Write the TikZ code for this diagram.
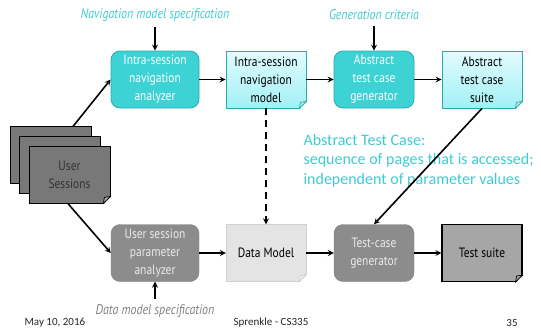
\documentclass[tikz,border=0pt]{standalone}
\usepackage{fontspec}
\setmainfont{PT Sans}
\newfontfamily\boxfont[FakeStretch=0.85]{PT Sans}
\newfontfamily\notefont{Carlito}
\usetikzlibrary{positioning, backgrounds}

\definecolor{tealfill}{HTML}{3DD3D5}
\definecolor{tealline}{HTML}{2AABB0}
\definecolor{teallabel}{HTML}{3FCBD3}
\definecolor{doctop}{HTML}{E2FCFD}
\definecolor{docbottom}{HTML}{A2F0F6}
\definecolor{greyfill}{HTML}{8C8C8C}
\definecolor{sessionfill}{HTML}{787878}
\definecolor{suitefill}{HTML}{A6A6A6}
\definecolor{datafill}{HTML}{E4E4E4}
\definecolor{dataline}{HTML}{D0D0D0}

\begin{document}
\begin{tikzpicture}[x=1pt, y=-1pt]
\useasboundingbox (0,0) rectangle (541,330);

\tikzset{box/.style={shape=rectangle, minimum height=57, minimum width=80, align=center, font=\boxfont\fontsize{13.5}{18}\selectfont}}
\tikzset{analyzer/.style={box, rounded corners=9, fill=tealfill, draw=tealline, line width=0.8, text=white}}
\tikzset{greybox/.style={box, rounded corners=9, fill=greyfill, draw=greyfill!90!black, text=white!92!black}}
\tikzset{cyandoc/.style={box, top color=doctop, bottom color=docbottom, draw=tealline, line width=0.8}}
\tikzset{greydoc/.style={box, fill=datafill, draw=dataline}}
\tikzset{suitedoc/.style={box, fill=suitefill, draw=black, line width=1.1}}
\tikzset{sessiondoc/.style={box, minimum width=81, fill=sessionfill, draw=black, line width=0.8, text=black!80}}
\tikzset{speclabel/.style={font=\boxfont\itshape\fontsize{14}{16}\selectfont, text=teallabel}}
\tikzset{note/.style={font=\notefont\fontsize{16}{19.3}\selectfont, text=teallabel, align=left}}
\tikzset{footer/.style={font=\notefont\fontsize{11}{12}\selectfont, text=black!85}}
\tikzset{flow/.style={->, >=stealth, line width=1.6}}

% top row
\node[speclabel] (navspec) at (155,15) {Navigation model specification};
\node[speclabel] (gencrit) at (374,15) {Generation criteria};
\node[analyzer, minimum width=88] (navanalyzer) at (155,79.5) {Intra-session\\navigation\\analyzer};
\node[cyandoc] (navmodel) at (266,79.5) {Intra-session\\navigation\\model};
\node[analyzer] (abstractgen) at (374,79.5) {Abstract\\test case\\generator};
\node[cyandoc] (abstractsuite) at (482,79.5) {Abstract\\test case\\suite};

% user sessions
\node[sessiondoc] (us1) at (50.5,154.5) {};
\node[sessiondoc] (us2) at (60,164.5) {};
\node[sessiondoc] (us3) at (69.5,174.5) {User\\Sessions};

% bottom row
\node[greybox, minimum width=88] (paramanalyzer) at (155,253) {User session\\parameter\\analyzer};
\node[greydoc] (datamodel) at (266,253) {Data Model};
\node[greybox] (tcgen) at (374,253) {Test-case\\generator};
\node[suitedoc] (testsuite) at (482,253) {Test suite};
\node[speclabel, text=gray] (dataspec) at (155,311) {Data model specification};

% note
\node[note, anchor=north west] (abstractnote) at (300,131) {Abstract Test Case:\\sequence of pages that is accessed;\\independent of parameter values};

% folded corners
\foreach \d/\c in {navmodel/tealline, abstractsuite/tealline, us3/black, datamodel/dataline, testsuite/black}{
  \fill[white] ([xshift=-7pt, yshift=-1pt]\d.south east) -- ([xshift=1pt, yshift=-1pt]\d.south east) -- ([xshift=1pt, yshift=7pt]\d.south east) -- cycle;
  \filldraw[draw=\c, fill=\c!35!white, line width=0.7] ([xshift=-7pt]\d.south east) -- ([yshift=7pt]\d.south east) -- ([xshift=-6pt, yshift=6pt]\d.south east) -- cycle;
}

% connectors
\draw[flow, shorten <=2] (navspec) -- (navanalyzer);
\draw[flow, shorten <=2] (gencrit) -- (abstractgen);
\draw[flow] (navanalyzer) -- (navmodel);
\draw[flow] (navmodel) -- (abstractgen);
\draw[flow] (abstractgen) -- (abstractsuite);
\draw[flow, dash pattern=on 7pt off 5pt] (navmodel) -- (datamodel);
\draw[flow] (abstractsuite.south) -- (tcgen.north);
\draw[flow] (paramanalyzer) -- (datamodel);
\draw[flow] (datamodel) -- (tcgen);
\draw[flow] (tcgen) -- (testsuite);
\draw[flow, shorten <=2] (dataspec) -- (paramanalyzer);
\begin{scope}[on background layer]
\draw[flow] (us1.center) -- (navanalyzer.west);
\draw[flow] (us1.south) -- (paramanalyzer.west);
\end{scope}

% footer
\node[footer, anchor=west] (date) at (21,323) {May 10, 2016};
\node[footer] (author) at (271,323) {Sprenkle - CS335};
\node[footer] (pagenum) at (512,323) {35};

\end{tikzpicture}
\end{document}
